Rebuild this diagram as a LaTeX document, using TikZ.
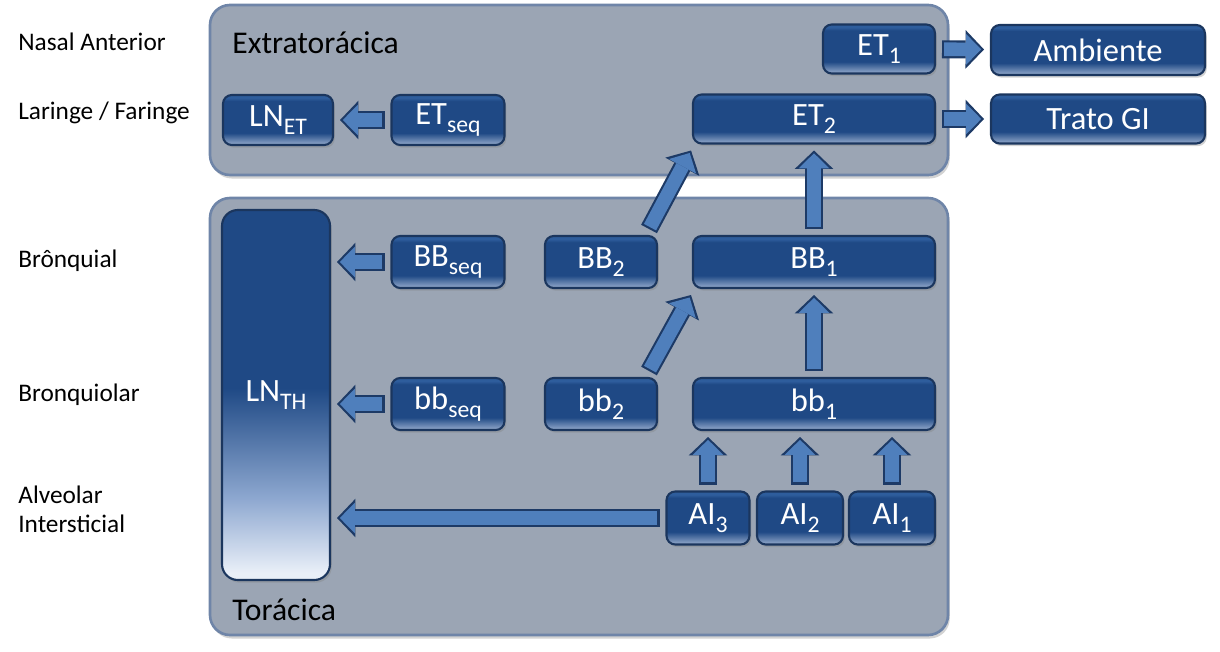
\documentclass[tikz,border=0pt]{standalone}
\usepackage{fontspec}
\setmainfont{Carlito}
\usetikzlibrary{positioning,shadows,arrows.meta}

\definecolor{panelfill}{HTML}{9BA5B4}
\definecolor{panelline}{HTML}{6F85A8}
\definecolor{boxline}{HTML}{1B365E}
\definecolor{boxtop}{HTML}{2E5D9C}
\definecolor{boxmid}{HTML}{1F4985}
\definecolor{boxlow}{HTML}{8DA4C7}
\definecolor{lnmid}{HTML}{8EA8D0}
\definecolor{lnlow}{HTML}{E9EFF8}
\definecolor{arrowfill}{HTML}{4F7FBC}
\definecolor{arrowline}{HTML}{1D3A66}

\newcommand{\lowsub}[1]{\raisebox{-0.55ex}{\fontsize{13.5}{14}\selectfont #1}}

\pgfdeclareverticalshading{boxshade}{100bp}{color(0bp)=(boxlow); color(26bp)=(boxlow); color(37bp)=(boxmid); color(69bp)=(boxmid); color(72bp)=(boxtop); color(100bp)=(boxtop)}
\pgfdeclareverticalshading{lnshade}{100bp}{color(0bp)=(lnlow); color(26bp)=(lnlow); color(36bp)=(lnmid); color(51bp)=(boxmid); color(100bp)=(boxmid)}

\begin{document}
\begin{tikzpicture}[
    panel/.style={draw=panelline, line width=1.5pt, fill=panelfill, rounded corners=0.4cm, drop shadow={shadow xshift=1pt, shadow yshift=-2pt, opacity=0.35}},
    box/.style={draw=boxline, line width=1.2pt, rounded corners=5pt, shading=boxshade, text=white, font=\fontsize{18.5}{20}\selectfont, inner sep=0pt, outer sep=0.14cm, minimum height=0.98cm, drop shadow={shadow xshift=1pt, shadow yshift=-1.5pt, opacity=0.35}},
    title/.style={anchor=west, inner sep=0pt, font=\fontsize{18}{20}\selectfont},
    region/.style={anchor=west, inner sep=0pt, align=left, font=\fontsize{14.4}{16.5}\selectfont},
    flow/.style={draw=arrowfill, line width=7.8pt, shorten >=1.6pt, shorten <=1.2pt, -{Triangle[length=8.6pt, width=17.5pt, line width=0pt]},
        preaction={draw=arrowline, line width=10.2pt, shorten >=0pt, shorten <=0pt, -{Triangle[length=10.5pt, width=22pt, line width=0pt]}}}
]
\useasboundingbox (0,0) rectangle (24.4,-13.02);

\node[region] (nasal) at (0.36,-0.84) {Nasal Anterior};
\node[region] (laringe) at (0.36,-2.26) {Laringe / Faringe};
\node[region] (bronq) at (0.36,-5.22) {Brônquial};
\node[region] (bronql) at (0.36,-7.9) {Bronquiolar};
\node[region] (alveolar) at (0.36,-10.18) {Alveolar\\Intersticial};

\node[panel, minimum width=14.76cm, minimum height=3.4cm] (extra) at (11.58,-1.8) {};
\node[panel, minimum width=14.76cm, minimum height=8.74cm] (thorax) at (11.58,-8.33) {};
\node[title] (extratitle) at (4.64,-0.86) {Extratorácica};
\node[title] (thoraxtitle) at (4.64,-12.2) {Torácica};

\node[box, minimum width=2.24cm] (et1) at (17.58,-0.98) {ET\lowsub{1}};
\node[box, minimum width=4.28cm, minimum height=1cm] (amb) at (21.96,-1.0) {Ambiente};
\node[box, minimum width=4.84cm] (et2) at (16.28,-2.38) {ET\lowsub{2}};
\node[box, minimum width=4.28cm] (trato) at (21.96,-2.38) {Trato GI};
\node[box, minimum width=2.2cm, minimum height=1cm] (lnet) at (5.56,-2.4) {LN\lowsub{ET}};
\node[box, minimum width=2.26cm, minimum height=1cm] (etseq) at (8.96,-2.4) {ET\lowsub{seq}};

\node[box, shading=lnshade, rounded corners=9pt, minimum width=2.16cm, minimum height=7.4cm] (lnth) at (5.52,-7.9) {LN\lowsub{TH}};

\node[box, minimum width=2.26cm, minimum height=1.04cm] (bbseq) at (8.96,-5.24) {BB\lowsub{seq}};
\node[box, minimum width=2.24cm, minimum height=1.04cm] (bb2) at (12.02,-5.24) {BB\lowsub{2}};
\node[box, minimum width=4.84cm, minimum height=1.04cm] (bb1) at (16.28,-5.24) {BB\lowsub{1}};

\node[box, minimum width=2.26cm, minimum height=1.04cm] (bblseq) at (8.96,-8.08) {bb\lowsub{seq}};
\node[box, minimum width=2.24cm, minimum height=1.04cm] (bbl2) at (12.02,-8.08) {bb\lowsub{2}};
\node[box, minimum width=4.84cm, minimum height=1.04cm] (bbl1) at (16.28,-8.08) {bb\lowsub{1}};

\node[box, minimum width=1.66cm, minimum height=1.06cm] (ai3) at (14.16,-10.36) {AI\lowsub{3}};
\node[box, minimum width=1.72cm, minimum height=1.06cm] (ai2) at (16.0,-10.36) {AI\lowsub{2}};
\node[box, minimum width=1.72cm, minimum height=1.06cm] (ai1) at (17.84,-10.36) {AI\lowsub{1}};

\draw[flow] (et1) -- (amb);
\draw[flow] (et2) -- (trato);
\draw[flow] (etseq) -- (lnet);
\draw[flow] (bb1) -- (et2);
\draw[flow] ([xshift=-0.3cm]bb2.north east) -- ([xshift=0.1cm]et2.south west);
\draw[flow] (bbl1) -- (bb1);
\draw[flow] ([xshift=-0.3cm]bbl2.north east) -- ([xshift=0.1cm]bb1.south west);
\draw[flow] (bbseq.west) -- (bbseq.west -| lnth.east);
\draw[flow] (bblseq.west) -- (bblseq.west -| lnth.east);
\draw[flow] (ai3.west) -- (ai3.west -| lnth.east);
\draw[flow] (ai3.north) -- (ai3.north |- bbl1.south);
\draw[flow] (ai2.north) -- (ai2.north |- bbl1.south);
\draw[flow] (ai1.north) -- (ai1.north |- bbl1.south);

\end{tikzpicture}
\end{document}
